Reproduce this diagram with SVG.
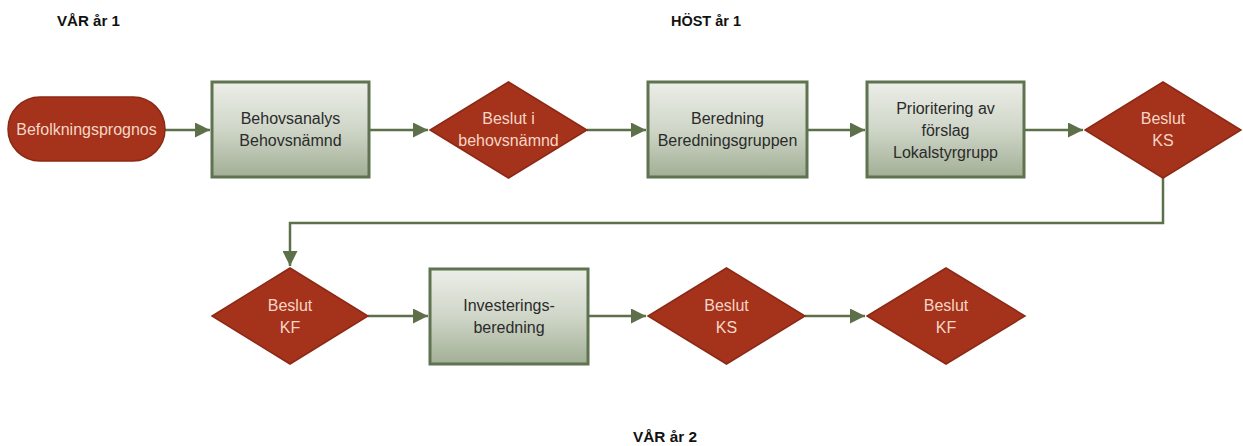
<svg xmlns="http://www.w3.org/2000/svg" width="1243" height="446" viewBox="0 0 1243 446">
<style>
.hdr{font-family:"Liberation Sans",Arial,sans-serif;font-weight:bold;font-size:14px;fill:#111}
.box{fill:url(#g);stroke:#5f7350;stroke-width:3}
.red{fill:#a5321b;stroke:#8c2915;stroke-width:1.5}
.bt{font-family:"Liberation Sans",Arial,sans-serif;font-size:16px;fill:#2b2b2b;text-anchor:middle}
.rt{font-family:"Liberation Sans",Arial,sans-serif;font-size:16px;fill:#f6d6c6;text-anchor:middle}
.c{fill:none;stroke:#5e7049;stroke-width:2.5}
</style>
<defs>
<linearGradient id="g" x1="0" y1="0" x2="0" y2="1">
<stop offset="0" stop-color="#eceee8"/>
<stop offset="0.5" stop-color="#cfd6c8"/>
<stop offset="1" stop-color="#a2af95"/>
</linearGradient>
<marker id="a" viewBox="0 0 10 10" refX="10" refY="5" markerWidth="6" markerHeight="6" orient="auto" markerUnits="strokeWidth">
<path d="M0,0 L10,5 L0,10 z" fill="#5e7049"/>
</marker>
</defs>
<rect width="1243" height="446" fill="#ffffff"/>
<text class="hdr" x="57" y="26" textLength="63" lengthAdjust="spacingAndGlyphs">VÅR år 1</text>
<text class="hdr" x="671" y="26" textLength="70" lengthAdjust="spacingAndGlyphs">HÖST år 1</text>
<text class="hdr" x="633" y="442" textLength="64" lengthAdjust="spacingAndGlyphs">VÅR år 2</text>
<g id="connectors">
<path class="c" d="M165,130 H210" marker-end="url(#a)"/>
<path class="c" d="M369,130 H428" marker-end="url(#a)"/>
<path class="c" d="M587,130 H646" marker-end="url(#a)"/>
<path class="c" d="M807,130 H865" marker-end="url(#a)"/>
<path class="c" d="M1024,130 H1083" marker-end="url(#a)"/>
<path class="c" d="M1163,178 V223 H290 V266" marker-end="url(#a)"/>
<path class="c" d="M368,316 H428" marker-end="url(#a)"/>
<path class="c" d="M588,316 H646" marker-end="url(#a)"/>
<path class="c" d="M805,316 H865" marker-end="url(#a)"/>
</g>
<g id="befolkningsprognos">
<rect class="red" x="8" y="97" width="157" height="64" rx="32" ry="32"/>
<text class="rt" x="86.5" y="135">Befolkningsprognos</text>
</g>
<g id="behovsanalys">
<rect class="box" x="212" y="82" width="157" height="95"/>
<text class="bt" x="290.5" y="124">Behovsanalys</text>
<text class="bt" x="290.5" y="146">Behovsnämnd</text>
</g>
<g id="beslut-behovsnamnd">
<polygon class="red" points="508.5,82 587,130 508.5,178 430,130"/>
<text class="rt" x="508.5" y="124">Beslut i</text>
<text class="rt" x="508.5" y="146">behovsnämnd</text>
</g>
<g id="beredning">
<rect class="box" x="648" y="82" width="159" height="95"/>
<text class="bt" x="727.5" y="124">Beredning</text>
<text class="bt" x="727.5" y="146">Beredningsgruppen</text>
</g>
<g id="prioritering">
<rect class="box" x="867" y="82" width="157" height="95"/>
<text class="bt" x="945.5" y="114">Prioritering av</text>
<text class="bt" x="945.5" y="136">förslag</text>
<text class="bt" x="945.5" y="158">Lokalstyrgrupp</text>
</g>
<g id="beslut-ks-1">
<polygon class="red" points="1163,82 1241,130 1163,178 1085,130"/>
<text class="rt" x="1163" y="124">Beslut</text>
<text class="rt" x="1163" y="146">KS</text>
</g>
<g id="beslut-kf-1">
<polygon class="red" points="290,268 368,316 290,364 212,316"/>
<text class="rt" x="290" y="311">Beslut</text>
<text class="rt" x="290" y="333">KF</text>
</g>
<g id="investeringsberedning">
<rect class="box" x="430" y="269" width="158" height="95"/>
<text class="bt" x="509" y="311">Investerings-</text>
<text class="bt" x="509" y="333">beredning</text>
</g>
<g id="beslut-ks-2">
<polygon class="red" points="726.5,268 805,316 726.5,364 648,316"/>
<text class="rt" x="726.5" y="311">Beslut</text>
<text class="rt" x="726.5" y="333">KS</text>
</g>
<g id="beslut-kf-2">
<polygon class="red" points="946,268 1025,316 946,364 867,316"/>
<text class="rt" x="946" y="311">Beslut</text>
<text class="rt" x="946" y="333">KF</text>
</g>
</svg>
